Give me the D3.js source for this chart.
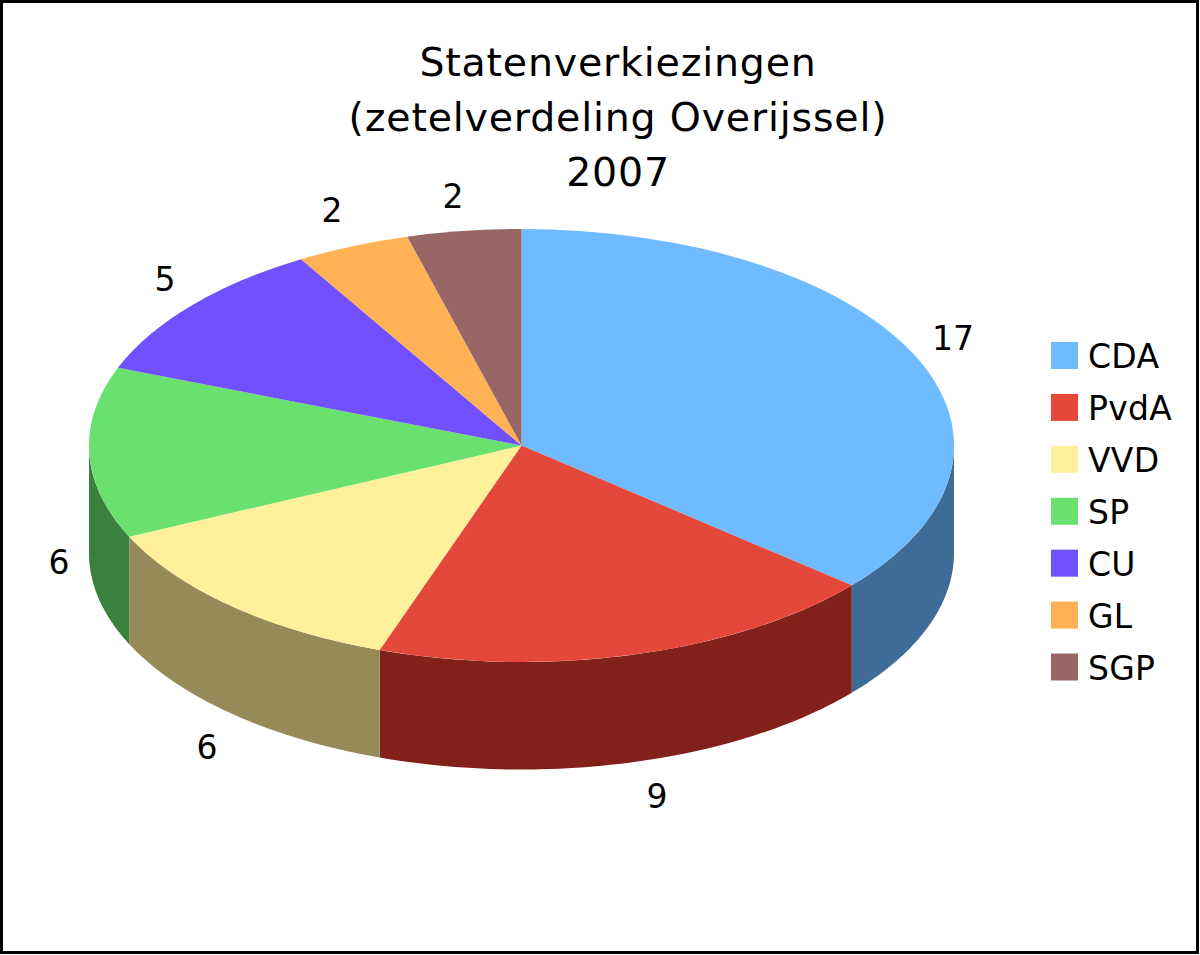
<!DOCTYPE html>
<html><head><meta charset="utf-8">
<script src="https://cdn.jsdelivr.net/npm/d3@7/dist/d3.min.js"></script>
<style>html,body{margin:0;padding:0;background:#fff}svg{display:block}text{font-family:"DejaVu Sans",sans-serif;fill:#000}</style>
</head><body><svg id="c" width="1200" height="955"></svg>
<script>
const categories=["CDA","PvdA","VVD","SP","CU","GL","SGP"];
const seats=[17,9,6,6,5,2,2];
const topColors=["#6fbbff","#e4483a","#fff09b","#6ae06e","#7050ff","#ffb155","#996666"];
const sideColors=["#3f6c96","#82211a","#968b58","#3a813f","#3f2d96","#966830","#5a3c3c"];
const titleLines=["Statenverkiezingen","(zetelverdeling Overijssel)","2007"];
const labelAnchors=[[953,338],[657,796],[207,747],[59,562],[165,279],[332,210],[453,196]];

const svg=d3.select("#c");
svg.append("rect").attr("x",1.5).attr("y",1.5).attr("width",1196).attr("height",951).attr("fill","#fff").attr("stroke","#000").attr("stroke-width",3);

const cx=521.5,cy=445.5,rx=432.5,ry=216.5,depth=107.5;
const arcs=d3.pie().sort(null).value(d=>d)(seats);
const px=t=>cx+rx*Math.sin(t), py=t=>cy-ry*Math.cos(t);

// side walls: visible front half only (angle between PI/2 and 3PI/2)
const lo=Math.PI/2, hi=3*Math.PI/2;
const walls=svg.append("g");
arcs.forEach((a,i)=>{
  const s=Math.max(a.startAngle,lo), e=Math.min(a.endAngle,hi);
  if(e<=s) return;
  const n=60, ts=d3.range(n+1).map(k=>s+(e-s)*k/n);
  const pts=ts.map(t=>[px(t),py(t)]).concat(ts.slice().reverse().map(t=>[px(t),py(t)+depth]));
  walls.append("path").attr("d",d3.line()(pts)+"Z").attr("fill",sideColors[i]);
});
// top faces
const arcGen=d3.arc().innerRadius(0).outerRadius(rx);
const topFaces=svg.append("g").attr("transform",`translate(${cx},${cy}) scale(1,${ry/rx})`);
topFaces.selectAll("path").data(arcs).join("path").attr("d",arcGen).attr("fill",(d,i)=>topColors[i]);

// value labels
svg.append("g").selectAll("text").data(seats).join("text")
  .attr("x",(d,i)=>labelAnchors[i][0]).attr("y",(d,i)=>labelAnchors[i][1])
  .attr("text-anchor","middle").attr("dominant-baseline","central")
  .attr("font-size",33).text(d=>d);

// title
svg.append("g").selectAll("text").data(titleLines).join("text")
  .attr("x",618).attr("y",(d,i)=>76+i*55).attr("text-anchor","middle")
  .attr("font-size",39.5).attr("letter-spacing",0.8).text(d=>d);

// legend
const legY=d3.scalePoint().domain(categories).range([355.5,667]);
const leg=svg.append("g").selectAll("g").data(categories).join("g")
  .attr("transform",d=>`translate(1051,${legY(d)})`);
leg.append("rect").attr("x",0).attr("y",-13.5).attr("width",27).attr("height",27).attr("fill",(d,i)=>topColors[i]);
leg.append("text").attr("x",37).attr("y",1).attr("dominant-baseline","central").attr("font-size",33).attr("letter-spacing",0.3).text(d=>d);
</script></body></html>
